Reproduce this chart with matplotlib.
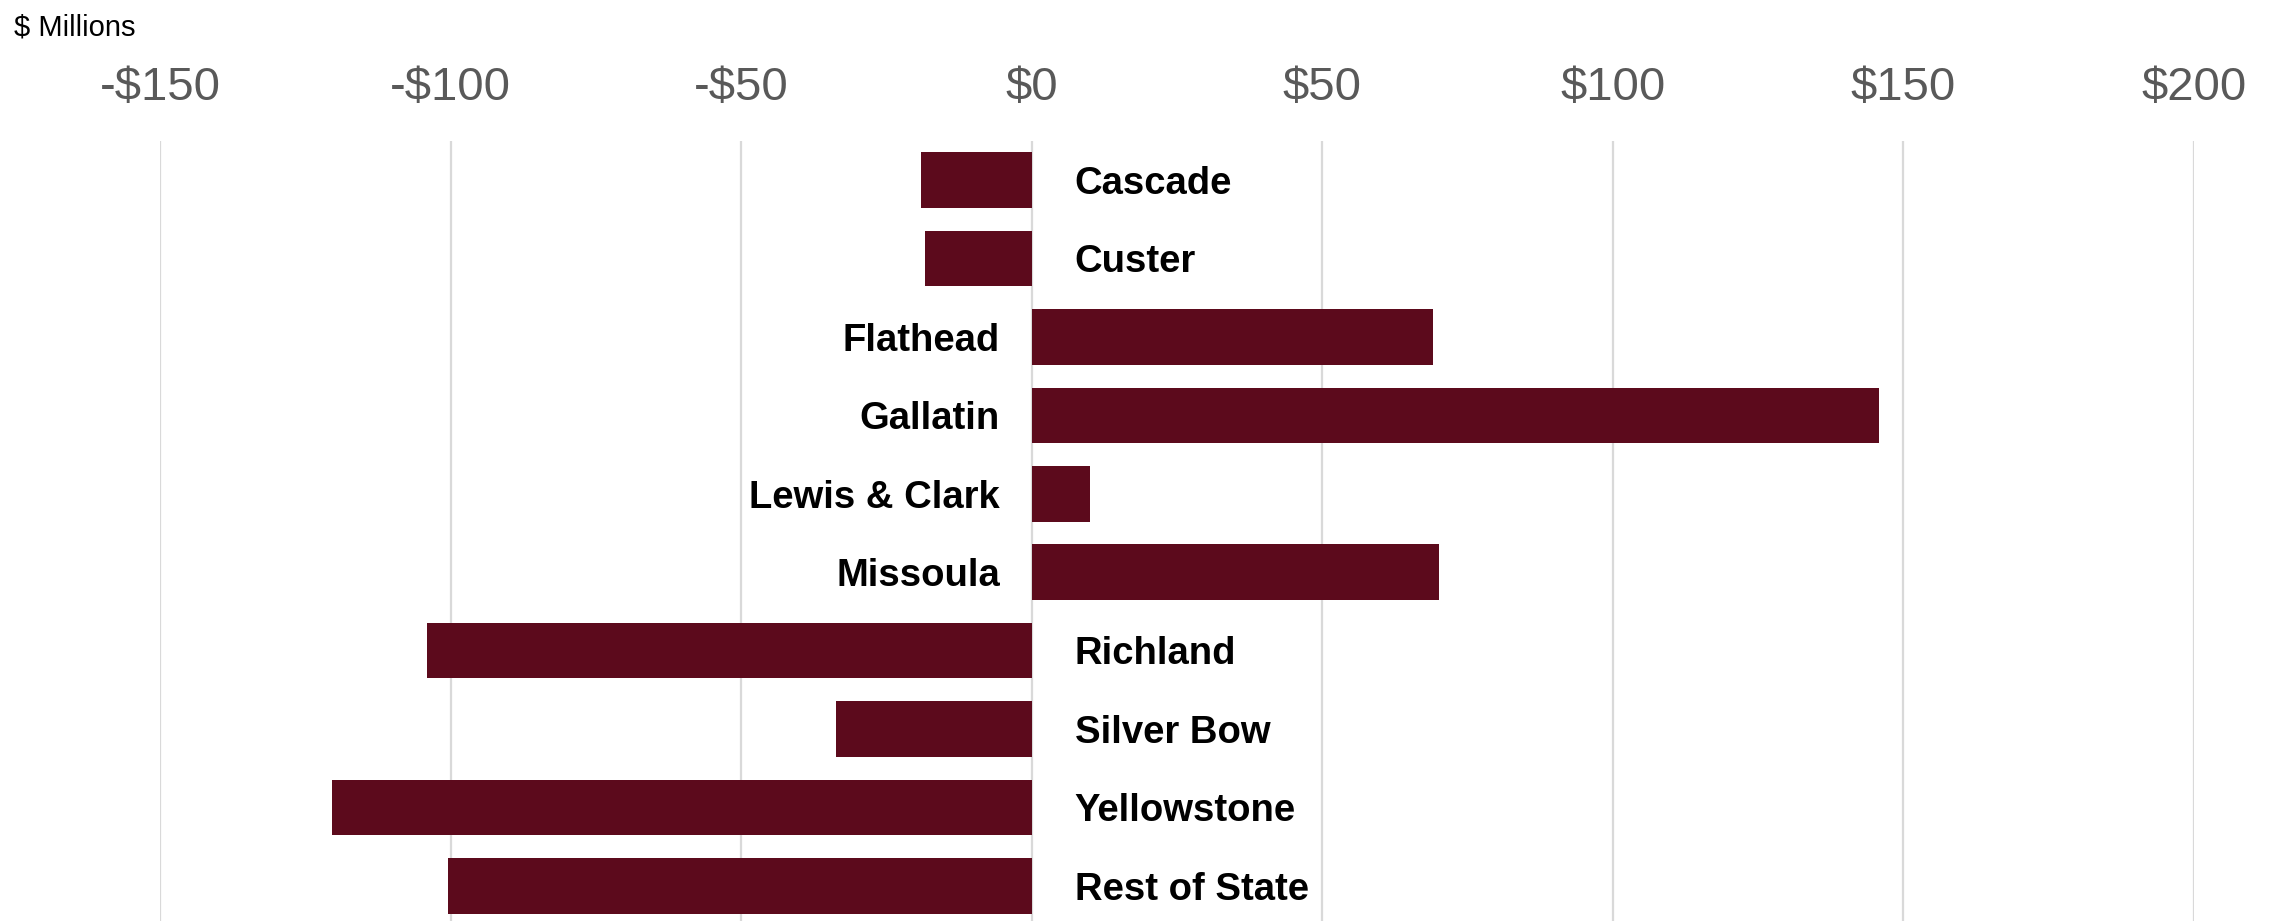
import matplotlib.pyplot as plt
import numpy as np

plt.rcParams['font.family'] = ['Liberation Sans', 'DejaVu Sans']

counties = ['Cascade', 'Custer', 'Flathead', 'Gallatin', 'Lewis & Clark',
            'Missoula', 'Richland', 'Silver Bow', 'Yellowstone', 'Rest of State']
change = [-19.1, -18.4, 69.1, 145.8, 10.1, 70.1, -104.0, -33.7, -120.4, -100.5]
ticks = [-150, -100, -50, 0, 50, 100, 150, 200]
tick_labels = ['-$150', '-$100', '-$50', '$0', '$50', '$100', '$150', '$200']

bar_color = '#5C0A1C'
W, H = 2274, 921
fig = plt.figure(figsize=(W / 100, H / 100), dpi=100)
# plot area in pixel terms: x 160..2194, y 141..925 from top
ax = fig.add_axes([160 / W, (H - 925) / H, (2194 - 160) / W, 784 / H])

y_pos = np.arange(len(counties))
ax.barh(y_pos, change, height=0.71, color=bar_color, zorder=3)

ax.set_xlim(-150, 200)
ax.set_ylim(len(counties) - 0.5, -0.5)
ax.set_xticks(ticks)
ax.set_xticklabels(tick_labels)
ax.xaxis.tick_top()
ax.tick_params(axis='x', length=0, pad=22, labelsize=34, labelcolor='#595959')
ax.set_yticks([])
ax.grid(axis='x', color='#D9D9D9', linewidth=1.6, zorder=0)
for side in ax.spines.values():
    side.set_visible(False)

# county names sit on the opposite side of zero from the bar
for i, (name, val) in enumerate(zip(counties, change)):
    if val >= 0:
        ax.annotate(name, xy=(0, i), xytext=(-23, -10), textcoords='offset points',
                    ha='right', va='baseline', fontsize=27.5, fontweight='bold',
                    color='black')
    else:
        ax.annotate(name, xy=(0, i), xytext=(31, -10), textcoords='offset points',
                    ha='left', va='baseline', fontsize=27.5, fontweight='bold',
                    color='black')

fig.text(14 / W, 1 - 35 / H, '$ Millions', fontsize=21, color='black',
         ha='left', va='baseline')

fig.savefig('out.png', dpi=100, facecolor='white')
